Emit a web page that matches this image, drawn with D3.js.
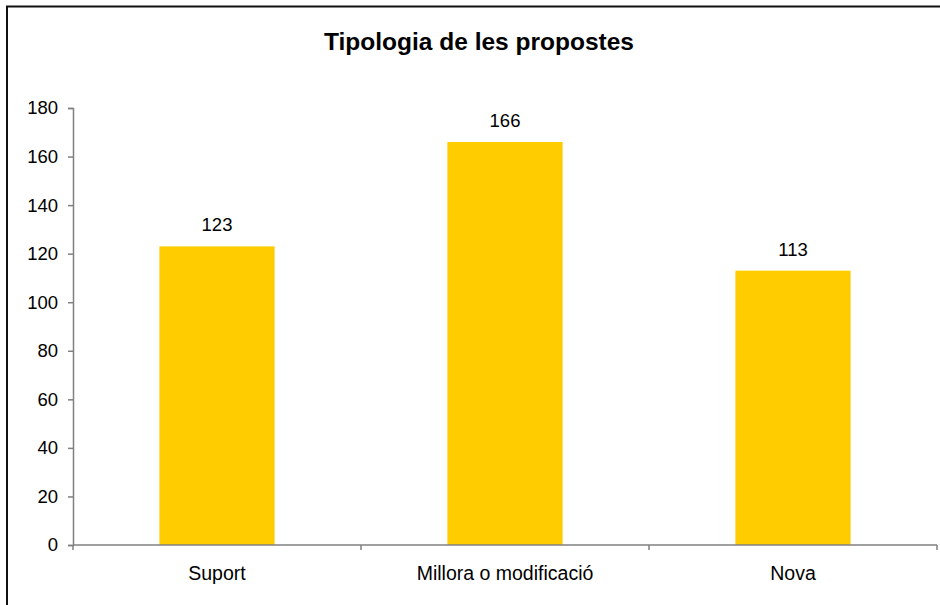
<!DOCTYPE html>
<html>
<head>
<meta charset="utf-8">
<script src="https://cdn.jsdelivr.net/npm/d3@7/dist/d3.min.js"></script>
<style>
  html, body { margin: 0; padding: 0; background: #fff; }
  svg { display: block; font-family: "Liberation Sans", Arial, sans-serif; }
</style>
</head>
<body>
<svg id="chart" width="940" height="605"></svg>
<script>
const categories = ["Suport", "Millora o modificació", "Nova"];
const values = [123, 166, 113];
const yTicks = [0, 20, 40, 60, 80, 100, 120, 140, 160, 180];
const TITLE = "Tipologia de les propostes";

const PLOT = { left: 73, right: 937, top: 108, bottom: 545 };
const BAR_COLOR = "#FFCC00", AXIS_COLOR = "#808080";

const svg = d3.select("#chart");

// outer chart frame (runs off the right/bottom edge like the original)
svg.append("rect")
  .attr("x", 7).attr("y", 6.5)
  .attr("width", 946).attr("height", 620)
  .attr("fill", "none").attr("stroke", "#111").attr("stroke-width", 2);

svg.append("text")
  .attr("x", 479).attr("y", 50)
  .attr("text-anchor", "middle")
  .attr("font-size", 24.5).attr("font-weight", "bold")
  .attr("fill", "#000")
  .text(TITLE);

const x = d3.scaleBand().domain(categories)
  .range([PLOT.left, PLOT.right]).paddingInner(0.6).paddingOuter(0.3);
const xCat = d3.scaleBand().domain(categories).range([PLOT.left, PLOT.right]);
const y = d3.scaleLinear().domain([0, 180]).range([PLOT.bottom, PLOT.top]);

// bars
svg.append("g").selectAll("rect")
  .data(categories)
  .join("rect")
  .attr("x", d => x(d))
  .attr("width", x.bandwidth())
  .attr("y", (d, i) => y(values[i]))
  .attr("height", (d, i) => y(0) - y(values[i]))
  .attr("fill", BAR_COLOR);

// value labels
svg.append("g").selectAll("text")
  .data(categories)
  .join("text")
  .attr("x", d => x(d) + x.bandwidth() / 2)
  .attr("y", (d, i) => y(values[i]) - 15)
  .attr("text-anchor", "middle")
  .attr("font-size", 18.5).attr("fill", "#000")
  .text((d, i) => values[i]);

// y axis
const yAxis = svg.append("g")
  .attr("transform", `translate(${PLOT.left},0)`)
  .call(d3.axisLeft(y).tickValues(yTicks).tickSize(5).tickPadding(10));
yAxis.select(".domain").attr("stroke", AXIS_COLOR).attr("stroke-width", 1.5);
yAxis.selectAll(".tick line").attr("stroke", AXIS_COLOR).attr("stroke-width", 1.5);
yAxis.selectAll(".tick text")
  .attr("font-size", 18.5).attr("fill", "#000")
  .attr("font-family", "Liberation Sans, Arial, sans-serif");

// x axis: baseline plus ticks at category boundaries
const xg = svg.append("g");
xg.append("line")
  .attr("x1", PLOT.left).attr("x2", PLOT.right)
  .attr("y1", y(0)).attr("y2", y(0))
  .attr("stroke", AXIS_COLOR).attr("stroke-width", 1.5);
const bounds = categories.map(c => xCat(c)).concat([PLOT.right]);
xg.selectAll(".xtick")
  .data(bounds)
  .join("line")
  .attr("class", "xtick")
  .attr("x1", d => d).attr("x2", d => d)
  .attr("y1", y(0)).attr("y2", y(0) + 5)
  .attr("stroke", AXIS_COLOR).attr("stroke-width", 1.5);
xg.selectAll(".xlabel")
  .data(categories)
  .join("text")
  .attr("class", "xlabel")
  .attr("x", d => xCat(d) + xCat.bandwidth() / 2)
  .attr("y", 579.5)
  .attr("text-anchor", "middle")
  .attr("font-size", 19.5).attr("fill", "#000")
  .text(d => d);
</script>
</body>
</html>
